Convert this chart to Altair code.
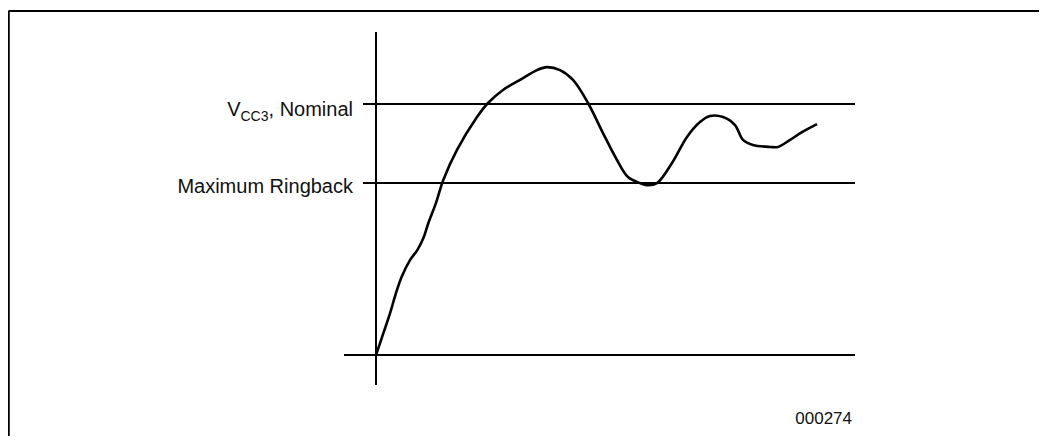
import altair as alt
import pandas as pd

# Waveform (t: arbitrary time units, v: fraction of nominal VCC3)
curve_t = [0.0, 0.73, 1.4, 2.0, 2.57, 3.4, 4.13, 4.73, 5.23, 6.0, 6.73, 8.1, 10.1, 11.2,
           12.7, 14.4, 16.1, 17.1, 18.4, 19.7, 21.2, 22.7, 24.1, 25.2, 26.4, 27.1, 28.1,
           29.6, 31.1, 32.4, 33.4, 34.7, 35.9, 36.7, 37.7, 39.4, 40.2, 41.4, 42.6, 44.1]
curve_v = [0.0, 0.086, 0.166, 0.247, 0.312, 0.378, 0.418, 0.465, 0.525, 0.606, 0.697, 0.817,
           0.948, 1.004, 1.056, 1.096, 1.135, 1.147, 1.135, 1.096, 1.004, 0.884, 0.777, 0.709,
           0.685, 0.677, 0.685, 0.765, 0.869, 0.928, 0.952, 0.948, 0.916, 0.857, 0.837, 0.829,
           0.829, 0.857, 0.888, 0.920]

# Reference levels
level_names = ["VCC3, Nominal", "Maximum Ringback"]
level_values = [1.0, 0.685]
level_start = -1.3
level_end = 47.9

baseline_start = -3.2
axis_v_min = -0.12
axis_v_max = 1.287

figure_id = "000274"

X_DOMAIN = [-36.8, 66.3]
Y_DOMAIN = [-0.3227, 1.3825]
FONT = "Liberation Sans"

xs = alt.Scale(domain=X_DOMAIN, nice=False, zero=False)
ys = alt.Scale(domain=Y_DOMAIN, nice=False, zero=False)

curve_df = pd.DataFrame({"t": curve_t, "v": curve_v})
levels_df = pd.DataFrame({"name": level_names, "v": level_values,
                          "t0": [level_start] * 2, "t1": [level_end] * 2})
base_df = pd.DataFrame({"v": [0.0], "t0": [baseline_start], "t1": [level_end]})
axis_df = pd.DataFrame({"t": [0.0], "v0": [axis_v_min], "v1": [axis_v_max]})
frame_df = pd.DataFrame({"t0": [-36.75], "t1": [X_DOMAIN[1]], "v": [1.3705]})
frame_l_df = pd.DataFrame({"t": [-36.75], "v0": [Y_DOMAIN[0]], "v1": [1.3705]})

frame_top = alt.Chart(frame_df).mark_rule(color="black", strokeWidth=2).encode(
    x=alt.X("t0:Q", scale=xs, axis=None), x2="t1:Q", y=alt.Y("v:Q", scale=ys, axis=None))
frame_left = alt.Chart(frame_l_df).mark_rule(color="black", strokeWidth=2.5).encode(
    x=alt.X("t:Q", scale=xs, axis=None), y=alt.Y("v0:Q", scale=ys, axis=None), y2="v1:Q")

levels = alt.Chart(levels_df).mark_rule(color="black", strokeWidth=2).encode(
    x=alt.X("t0:Q", scale=xs, axis=None), x2="t1:Q", y=alt.Y("v:Q", scale=ys, axis=None))
baseline = alt.Chart(base_df).mark_rule(color="black", strokeWidth=2).encode(
    x=alt.X("t0:Q", scale=xs, axis=None), x2="t1:Q", y=alt.Y("v:Q", scale=ys, axis=None))
vaxis = alt.Chart(axis_df).mark_rule(color="black", strokeWidth=2).encode(
    x=alt.X("t:Q", scale=xs, axis=None), y=alt.Y("v0:Q", scale=ys, axis=None), y2="v1:Q")

curve = alt.Chart(curve_df).mark_line(color="black", strokeWidth=2.6,
                                      interpolate="catmull-rom").encode(
    x=alt.X("t:Q", scale=xs, axis=None), y=alt.Y("v:Q", scale=ys, axis=None))

label_t = -2.3
nom_df = pd.DataFrame({"t": [label_t], "v": [level_values[0]]})
ring_df = pd.DataFrame({"t": [label_t], "v": [level_values[1]], "txt": [level_names[1]]})

def txt(df, text, size, dx, dy):
    return alt.Chart(df).mark_text(align="right", baseline="alphabetic", font=FONT,
                                   fontSize=size, color="#111", dx=dx, dy=dy,
                                   text=text).encode(
        x=alt.X("t:Q", scale=xs, axis=None), y=alt.Y("v:Q", scale=ys, axis=None))

nom_main = txt(nom_df, ", Nominal", 20, 0, 12)
nom_sub = txt(nom_df, "CC3", 14, -84.5, 16.5)
nom_v = txt(nom_df, "V", 20, -112.5, 12)
ring = alt.Chart(ring_df).mark_text(align="right", baseline="alphabetic", font=FONT,
                                    fontSize=20, color="#111", dy=10).encode(
    x=alt.X("t:Q", scale=xs, axis=None), y=alt.Y("v:Q", scale=ys, axis=None), text="txt:N")

fig_df = pd.DataFrame({"t": [47.6], "v": [-0.275], "txt": [figure_id]})
fig = alt.Chart(fig_df).mark_text(align="right", baseline="alphabetic", font=FONT,
                                  fontSize=17, color="#111").encode(
    x=alt.X("t:Q", scale=xs, axis=None), y=alt.Y("v:Q", scale=ys, axis=None), text="txt:N")

chart = alt.layer(frame_top, frame_left, levels, baseline, vaxis, curve,
                  nom_main, nom_sub, nom_v, ring, fig).properties(
    width=1031, height=428, padding=0, autosize=alt.AutoSizeParams(type="none"),
    background="white"
).configure_view(stroke=None)

chart.save("out.html", embed_options={"renderer": "svg", "actions": False})
